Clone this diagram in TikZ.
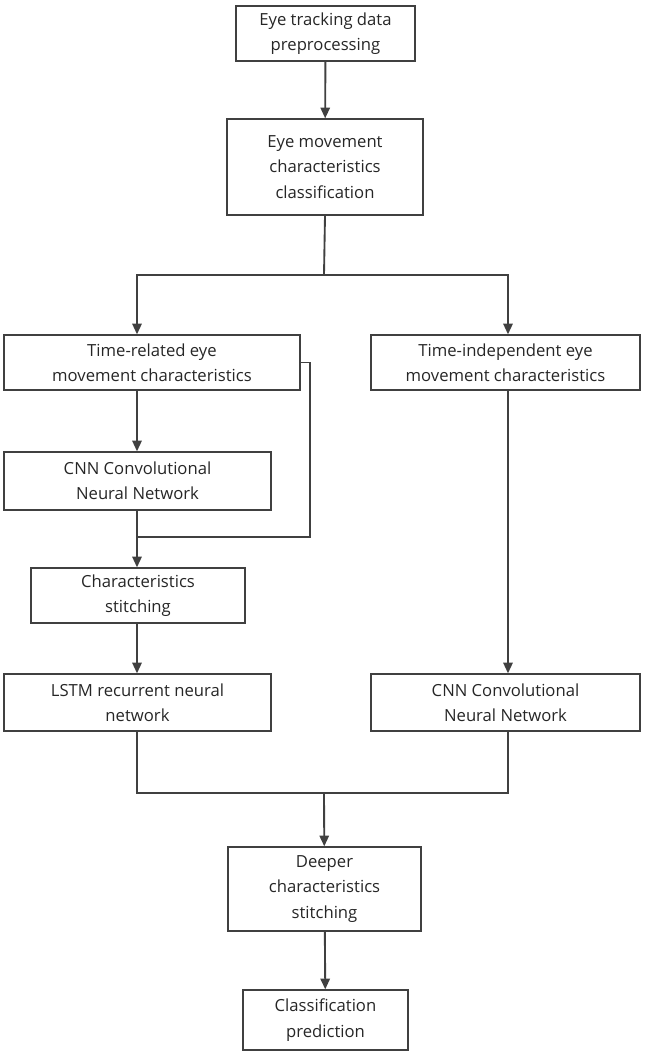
\documentclass[tikz,border=0pt]{standalone}
\usepackage{fontspec}
\setmainfont{Open Sans}
\usetikzlibrary{arrows.meta}
\begin{document}
\begin{tikzpicture}[x=0.75pt,y=-0.75pt,line width=1.4pt,draw=black!75]
    \tikzstyle{box}=[draw=black!75,line width=1pt,rectangle,align=center,inner sep=2pt,font=\fontsize{12.5}{19}\selectfont,text=black!85]
    \tikzstyle{flow}=[-{Triangle[length=8pt,width=7pt]}]
    \useasboundingbox (0,0) rectangle (645,1058);

    % Draw the boxes.
    \node[box,minimum width=134.25pt,minimum height=41.25pt] (prep) at (325.5,33.5) {Eye tracking data\\preprocessing};
    \node[box,minimum width=147pt,minimum height=72pt] (cls) at (325,167) {Eye movement\\characteristics\\classification};
    \node[box,minimum width=222pt,minimum height=41.25pt] (trel) at (152,362.5) {Time-related eye\\movement characteristics};
    \node[box,minimum width=201.75pt,minimum height=41.25pt] (tind) at (505.5,362.5) {Time-independent eye\\movement characteristics};
    \node[box,minimum width=200.25pt,minimum height=43.5pt] (cnnl) at (137.5,481) {CNN Convolutional\\Neural Network};
    \node[box,minimum width=160.5pt,minimum height=41.25pt] (stitch) at (138,595.5) {Characteristics\\stitching};
    \node[box,minimum width=200.25pt,minimum height=42.75pt] (lstm) at (137.5,702.5) {LSTM recurrent neural\\network};
    \node[box,minimum width=201.75pt,minimum height=42.75pt] (cnnr) at (505.5,702.5) {CNN Convolutional\\Neural Network};
    \node[box,minimum width=144.75pt,minimum height=63pt] (deep) at (324.5,889) {Deeper\\characteristics\\stitching};
    \node[box,minimum width=123.75pt,minimum height=45pt] (pred) at (325.5,1020) {Classification\\prediction};

    % Junction points.
    \coordinate (split) at (324,275);
    \coordinate (loop) at (137,537);
    \coordinate (merge) at (324,793);

    % Connect the boxes.
    \draw[flow] (prep) -- (cls);
    \draw (cls.south) -- (split);
    \draw[flow] (split) -| (trel.north-|137,0);
    \draw[flow] (split) -| (tind.north-|508,0);
    \draw[flow] (trel.south-|137,0) -- (cnnl.north-|137,0);
    \draw (trel.east) -- (310,362.5) |- (loop);
    \draw[flow] (cnnl.south-|137,0) -- (stitch.north-|137,0);
    \draw[flow] (stitch.south-|137,0) -- (lstm.north-|137,0);
    \draw[flow] (tind.south-|508,0) -- (cnnr.north-|508,0);
    \draw (lstm.south-|137,0) |- (merge) -| (cnnr.south-|508,0);
    \draw[flow] (merge) -- (deep);
    \draw[flow] (deep) -- (pred);
\end{tikzpicture}
\end{document}
